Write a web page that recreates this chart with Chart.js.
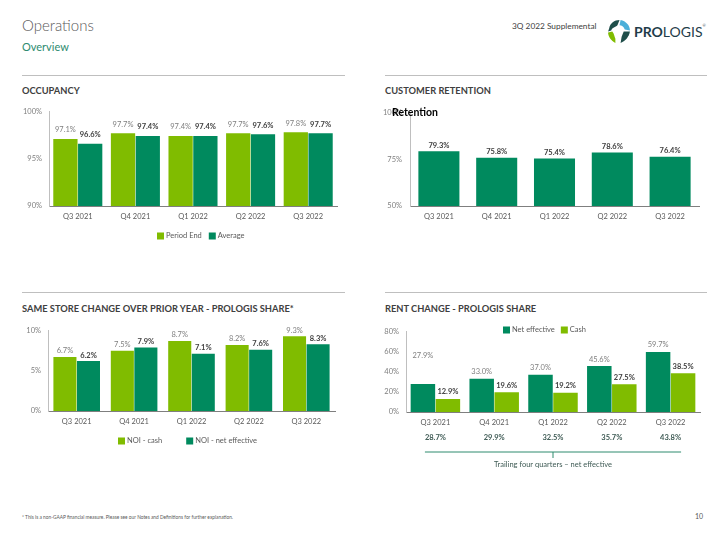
<!DOCTYPE html>
<html>
<head>
<meta charset="utf-8">
<script src="https://cdn.jsdelivr.net/npm/chart.js@4.4.0/dist/chart.umd.min.js"></script>
<style>
  body { margin: 0; background: #fff; font-family: Lato, "Liberation Sans", sans-serif; }
  #page { position: relative; width: 720px; height: 540px; overflow: hidden; }
  .abs { position: absolute; white-space: nowrap; }
  .rule { position: absolute; height: 1px; background: #BFBFBF; }
  .sec { position: absolute; font-weight: bold; font-size: 9.3px; color: #404040; }
  .box { position: absolute; }
</style>
</head>
<body>
<div id="page">
  <div class="abs" style="left:22px;top:16px;font-size:15px;font-weight:300;color:#595959;">Operations</div>
  <div class="abs" style="left:22px;top:40px;font-size:11px;color:#2E8B6F;">Overview</div>
  <div class="abs" style="left:512px;top:21px;font-size:8.3px;color:#404040;">3Q 2022 Supplemental</div>
  <svg class="abs" style="left:606px;top:19px;" width="25" height="25" viewBox="0 0 24 24">
    <path d="M3 9 C4 4 8 1 13 1 L11 6 C9 8 6 8 5 11 L2 12 Z" fill="#1F4E4A"/>
    <path d="M14 1 C19 2 23 6 23 11 L18 10 C17 7 15 6 13 6 Z" fill="#4BAFD9"/>
    <path d="M2 13 L6 12 C8 14 8 17 9 19 L9 23 C5 21 2 17 2 13 Z" fill="#80BC00"/>
    <path d="M17 12 L23 12 C22 17 19 21 14 23 L15 17 Z" fill="#1F4E4A"/>
  </svg>
  <div class="abs" style="left:634px;top:23px;font-size:14px;color:#1F3D4A;"><b>PRO</b>LOGIS<span style="font-size:4px;vertical-align:top;">&reg;</span></div>

  <div class="rule" style="left:22px;top:75px;width:323px;"></div>
  <div class="rule" style="left:385px;top:75px;width:322px;"></div>
  <div class="sec" style="left:22px;top:85px;">OCCUPANCY</div>
  <div class="sec" style="left:385px;top:85px;">CUSTOMER RETENTION</div>

  <div class="rule" style="left:22px;top:292px;width:323px;"></div>
  <div class="rule" style="left:385px;top:292px;width:322px;"></div>
  <div class="sec" style="left:22px;top:303px;">SAME STORE CHANGE OVER PRIOR YEAR - PROLOGIS SHARE*</div>
  <div class="sec" style="left:385px;top:303px;">RENT CHANGE - PROLOGIS SHARE</div>

  <div class="box" style="left:0;top:100px;width:345px;height:150px;"><canvas id="occupancy"></canvas></div>
  <div class="box" style="left:360px;top:100px;width:360px;height:150px;"><canvas id="retention"></canvas></div>
  <div class="abs" style="left:392px;top:106px;font-size:10.5px;font-weight:bold;color:#000;">Retention</div>
  <div class="box" style="left:0;top:319px;width:345px;height:136px;"><canvas id="samestore"></canvas></div>
  <div class="box" style="left:360px;top:320px;width:360px;height:160px;"><canvas id="rentchange"></canvas></div>

  <div class="abs" style="left:22px;top:514px;font-size:4.8px;color:#595959;">* This is a non-GAAP financial measure. Please see our Notes and Definitions for further explanation.</div>
  <div class="abs" style="left:695px;top:512px;font-size:7px;color:#595959;">10</div>
</div>

<script>
// quarters shown on every chart
var quarters = ["Q3 2021", "Q4 2021", "Q1 2022", "Q2 2022", "Q3 2022"];

// occupancy (%)
var occPeriodEnd = [97.1, 97.7, 97.4, 97.7, 97.8];
var occAverage = [96.6, 97.4, 97.4, 97.6, 97.7];
var occTicks = [90, 95, 100];

// customer retention (%)
var retention = [79.3, 75.8, 75.4, 78.6, 76.4];
var retTicks = [50, 75, 100];

// same store change (%)
var noiCash = [6.7, 7.5, 8.7, 8.2, 9.3];
var noiNetEffective = [6.2, 7.9, 7.1, 7.6, 8.3];
var ssTicks = [0, 5, 10];

// rent change (%)
var rentNetEffective = [27.9, 33.0, 37.0, 45.6, 59.7];
var rentCash = [12.9, 19.6, 19.2, 27.5, 38.5];
var trailingNetEffective = [28.7, 29.9, 32.5, 35.7, 43.8];
var rentTicks = [0, 20, 40, 60, 80];

var LIGHT = "#80BC00";
var DARK = "#008A5E";
var FONT = "Lato, 'Liberation Sans', sans-serif";

Chart.defaults.font.family = FONT;
Chart.defaults.animation = false;

// values above the bars
var barLabels = {
    id: "barLabels",
    afterDatasetsDraw: function(chart, args, opts) {
        var ctx = chart.ctx;
        chart.data.datasets.forEach(function(ds, i) {
            var meta = chart.getDatasetMeta(i);
            ctx.save();
            ctx.font = (ds.labelBold ? "bold " : "") + "7.5px " + FONT;
            ctx.fillStyle = ds.labelBold ? "#404040" : "#7F7F7F";
            ctx.textAlign = "center";
            ctx.textBaseline = "middle";
            meta.data.forEach(function(bar, j) {
                var lift = (ds.labelLift && ds.labelLift[j]) || 0;
                ctx.fillText(ds.data[j].toFixed(1) + "%", bar.x, bar.y - opts.pad - lift);
            });
            ctx.restore();
        });
    }
};

// small square legend in one row, placed where the slide has it
var legendRow = {
    id: "legendRow",
    afterDraw: function(chart, args, opts) {
        if (!opts.show) return;
        var ctx = chart.ctx;
        ctx.save();
        ctx.font = "7.5px " + FONT;
        ctx.textBaseline = "middle";
        ctx.textAlign = "left";
        var x = opts.x, box = 7;
        chart.data.datasets.forEach(function(ds) {
            ctx.fillStyle = ds.backgroundColor;
            ctx.fillRect(x, opts.y - box / 2, box, box);
            ctx.fillStyle = "#595959";
            ctx.fillText(ds.label, x + box + 2, opts.y);
            x += box + 2 + ctx.measureText(ds.label).width + opts.gap;
        });
        ctx.restore();
    }
};

function yAxis(ticks, width, pad) {
    return {
        min: ticks[0],
        max: ticks[ticks.length - 1],
        afterBuildTicks: function(scale) {
            scale.ticks = ticks.map(function(v) { return { value: v }; });
        },
        afterFit: function(scale) { scale.width = width; },
        grid: { display: false, drawTicks: false, tickLength: 0 },
        border: { display: true, color: "#BFBFBF", width: 1 },
        ticks: {
            padding: pad,
            color: "#7F7F7F",
            font: { size: 7.5 },
            callback: function(v) { return v + "%"; }
        }
    };
}

function xAxis() {
    return {
        afterFit: function(scale) { scale.height = 20; },
        grid: { display: false, drawTicks: false, tickLength: 0 },
        border: { display: true, color: "#7F7F7F", width: 1 },
        ticks: { padding: 6, color: "#595959", font: { size: 7.5 }, maxRotation: 0 }
    };
}

// Occupancy
new Chart(document.getElementById("occupancy"), {
    type: "bar",
    data: {
        labels: quarters,
        datasets: [
            { label: "Period End", data: occPeriodEnd, backgroundColor: LIGHT, labelBold: false },
            { label: "Average", data: occAverage, backgroundColor: DARK, labelBold: true }
        ]
    },
    options: {
        responsive: true,
        maintainAspectRatio: false,
        layout: { padding: { top: 10, right: 8, bottom: 24, left: 0 } },
        categoryPercentage: 0.86,
        barPercentage: 0.98,
        scales: { x: xAxis(), y: yAxis(occTicks, 49, 7) },
        plugins: {
            legend: { display: false },
            tooltip: { enabled: false },
            barLabels: { pad: 9 },
            legendRow: { show: true, x: 157, y: 136, gap: 7 }
        }
    },
    plugins: [barLabels, legendRow]
});

// Customer retention
new Chart(document.getElementById("retention"), {
    type: "bar",
    data: {
        labels: quarters,
        datasets: [
            { label: "Retention", data: retention, backgroundColor: DARK, labelBold: true }
        ]
    },
    options: {
        responsive: true,
        maintainAspectRatio: false,
        layout: { padding: { top: 10, right: 21, bottom: 24, left: 0 } },
        categoryPercentage: 0.71,
        barPercentage: 1.0,
        scales: { x: xAxis(), y: yAxis(retTicks, 50, 8) },
        plugins: {
            legend: { display: false },
            tooltip: { enabled: false },
            barLabels: { pad: 6 },
            legendRow: { show: false }
        }
    },
    plugins: [barLabels]
});

// Same store change
new Chart(document.getElementById("samestore"), {
    type: "bar",
    data: {
        labels: quarters,
        datasets: [
            { label: "NOI - cash", data: noiCash, backgroundColor: LIGHT, labelBold: false },
            { label: "NOI - net effective", data: noiNetEffective, backgroundColor: DARK, labelBold: true }
        ]
    },
    options: {
        responsive: true,
        maintainAspectRatio: false,
        layout: { padding: { top: 10, right: 10, bottom: 24, left: 0 } },
        categoryPercentage: 0.82,
        barPercentage: 0.98,
        scales: { x: xAxis(), y: yAxis(ssTicks, 48, 7) },
        plugins: {
            legend: { display: false },
            tooltip: { enabled: false },
            barLabels: { pad: 6 },
            legendRow: { show: true, x: 118, y: 122, gap: 24 }
        }
    },
    plugins: [barLabels, legendRow]
});

// trailing four quarters row under the rent change axis
var trailingRow = {
    id: "trailingRow",
    afterDraw: function(chart) {
        var ctx = chart.ctx;
        var area = chart.chartArea;
        var x = chart.scales.x;
        ctx.save();
        ctx.font = "bold 7.5px " + FONT;
        ctx.textAlign = "center";
        ctx.textBaseline = "middle";
        ctx.fillStyle = "#3F5B55";
        var rowY = area.bottom + 26;
        trailingNetEffective.forEach(function(v, i) {
            ctx.fillText(v.toFixed(1) + "%", x.getPixelForValue(i), rowY);
        });
        var half = ctx.measureText("28.7%").width / 2;
        var left = x.getPixelForValue(0) - half;
        var right = x.getPixelForValue(trailingNetEffective.length - 1) + half;
        var lineY = area.bottom + 40;
        var mid = (left + right) / 2;
        ctx.strokeStyle = "#2E8B6F";
        ctx.lineWidth = 1;
        ctx.beginPath();
        ctx.moveTo(left, lineY);
        ctx.lineTo(right, lineY);
        ctx.moveTo(mid, lineY);
        ctx.lineTo(mid, lineY + 6);
        ctx.stroke();
        ctx.font = "7.5px " + FONT;
        ctx.fillStyle = "#3F5B55";
        ctx.fillText("Trailing four quarters \u2013 net effective", mid, lineY + 13);
        ctx.restore();
    }
};

// Rent change
new Chart(document.getElementById("rentchange"), {
    type: "bar",
    data: {
        labels: quarters,
        datasets: [
            { label: "Net effective", data: rentNetEffective, backgroundColor: DARK, labelBold: false, labelLift: [21, 0, 0, 0, 0] },
            { label: "Cash", data: rentCash, backgroundColor: LIGHT, labelBold: true }
        ]
    },
    options: {
        responsive: true,
        maintainAspectRatio: false,
        layout: { padding: { top: 10, right: 20, bottom: 48, left: 0 } },
        categoryPercentage: 0.85,
        barPercentage: 0.98,
        scales: { x: xAxis(), y: yAxis(rentTicks, 46, 7) },
        plugins: {
            legend: { display: false },
            tooltip: { enabled: false },
            barLabels: { pad: 7 },
            legendRow: { show: true, x: 143, y: 10, gap: 6 }
        }
    },
    plugins: [barLabels, legendRow, trailingRow]
});
</script>
</body>
</html>
